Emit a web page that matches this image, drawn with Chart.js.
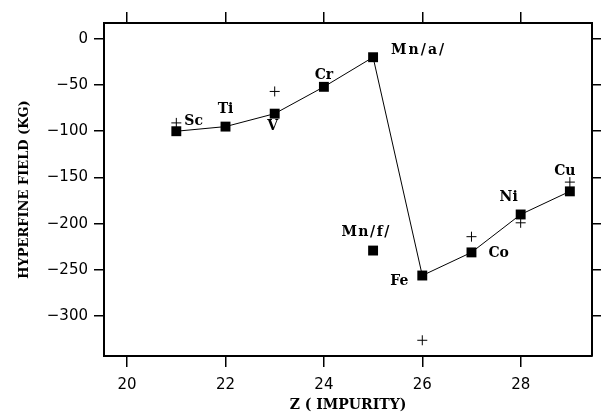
<!DOCTYPE html>
<html lang="en">
<head>
  <meta charset="UTF-8">
  <title>Hyperfine field vs Z</title>
  <script src="https://cdn.jsdelivr.net/npm/chart.js"></script>
  <style>
    html, body { margin: 0; padding: 0; background: #fff; }
    #wrap { width: 601px; height: 415px; }
  </style>
</head>
<body>
  <div id="wrap"><canvas id="hfChart" width="601" height="415"></canvas></div>

  <script>
    // measured hyperfine fields (squares, joined by the line)
    const zValues = [21, 22, 23, 24, 25, 26, 27, 28, 29];
    const fieldMeasured = [-100, -95, -81, -52, -20, -256, -231, -190, -165];
    const elementNames = ['Sc', 'Ti', 'V', 'Cr', 'Mn/a/', 'Fe', 'Co', 'Ni', 'Cu'];
    // Mn, second value (lone square)
    const mnFerroZ = [25];
    const mnFerroField = [-229];
    const mnFerroName = ['Mn/f/'];
    // calculated values (+ marks)
    const crossZ = [21, 23, 26, 27, 28, 29];
    const crossField = [-91, -57, -326, -214, -199, -155];
    // axis ticks
    const xTicks = [20, 22, 24, 26, 28];
    const yTicks = [0, -50, -100, -150, -200, -250, -300];

    const tickFont = { family: 'DejaVu Sans', size: 15 };
    const serifFont = 'DejaVu Serif';

    // label offsets from their square, in px: [dx, dy, align, letterSpacing]
    const labelOffsets = {
      'Sc': [8, -10, 'left', 0],
      'Ti': [0, -17, 'center', 0],
      'V': [-2, 13, 'center', 0],
      'Cr': [0, -11, 'center', 0],
      'Mn/a/': [18, -7, 'left', 2],
      'Fe': [-23, 6, 'center', 0],
      'Co': [17, 1, 'left', 0],
      'Ni': [-12, -17, 'center', 0],
      'Cu': [-5, -20, 'center', 0],
      'Mn/f/': [-7, -18, 'center', 1.5]
    };

    const elementLabels = {
      id: 'elementLabels',
      afterDatasetsDraw(chart) {
        const c = chart.ctx;
        const xs = chart.scales.x, ys = chart.scales.y;
        const put = (name, z, f) => {
          const o = labelOffsets[name];
          c.save();
          c.font = 'bold 14px "' + serifFont + '"';
          c.fillStyle = '#000';
          c.textAlign = o[2];
          c.textBaseline = 'middle';
          c.letterSpacing = o[3] + 'px';
          c.fillText(name, xs.getPixelForValue(z) + o[0], ys.getPixelForValue(f) + o[1]);
          c.restore();
        };
        elementNames.forEach((n, i) => put(n, zValues[i], fieldMeasured[i]));
        mnFerroName.forEach((n, i) => put(n, mnFerroZ[i], mnFerroField[i]));
      }
    };

    const gridOpts = { drawOnChartArea: false, color: '#000', lineWidth: 1.5 };
    const borderOpts = { display: true, color: '#000', width: 2 };

    let ctx = document.getElementById('hfChart').getContext('2d');
    let hfChart = new Chart(ctx, {
      type: 'scatter',
      data: {
        datasets: [{
          label: 'measured',
          data: zValues.map((z, i) => ({ x: z, y: fieldMeasured[i] })),
          showLine: true,
          borderColor: '#000',
          backgroundColor: '#000',
          borderWidth: 1,
          pointStyle: 'rect',
          pointRadius: 7,
          pointBorderWidth: 0,
          tension: 0
        }, {
          label: 'Mn f',
          data: mnFerroZ.map((z, i) => ({ x: z, y: mnFerroField[i] })),
          showLine: false,
          backgroundColor: '#000',
          borderColor: '#000',
          pointStyle: 'rect',
          pointRadius: 7,
          pointBorderWidth: 0
        }, {
          label: 'calc',
          data: crossZ.map((z, i) => ({ x: z, y: crossField[i] })),
          showLine: false,
          borderColor: '#000',
          pointStyle: 'cross',
          pointRadius: 5,
          pointBorderWidth: 1
        }]
      },
      options: {
        responsive: false,
        animation: false,
        layout: { padding: 0 },
        plugins: { legend: { display: false }, tooltip: { enabled: false } },
        scales: {
          x: {
            type: 'linear', position: 'bottom', min: 19.53, max: 29.45,
            afterBuildTicks: s => { s.ticks = xTicks.map(v => ({ value: v })); },
            afterFit: s => { s.height = 59; },
            ticks: { font: tickFont, color: '#000', padding: 9 },
            grid: Object.assign({ tickLength: 11 }, gridOpts),
            border: borderOpts,
            title: {
              display: true, text: 'Z ( IMPURITY)', color: '#000',
              font: { family: serifFont, size: 14, weight: 'bold' }, padding: { top: 0, bottom: 1 }
            }
          },
          x2: {
            type: 'linear', position: 'top', min: 19.53, max: 29.45,
            afterBuildTicks: s => { s.ticks = xTicks.map(v => ({ value: v })); },
            afterFit: s => { s.height = 23; },
            ticks: { display: false },
            grid: Object.assign({ tickLength: 11 }, gridOpts),
            border: borderOpts
          },
          y: {
            type: 'linear', position: 'left', min: -343, max: 17,
            afterBuildTicks: s => { s.ticks = yTicks.map(v => ({ value: v })); },
            afterFit: s => { s.width = 104; },
            ticks: {
              font: tickFont, color: '#000', padding: 6,
              callback: v => v < 0 ? '\u2212' + Math.abs(v) : String(v)
            },
            grid: Object.assign({ tickLength: 10 }, gridOpts),
            border: borderOpts,
            title: {
              display: true, text: 'HYPERFINE FIELD (KG)', color: '#000',
              font: { family: serifFont, size: 13, weight: 'bold' }, padding: { top: 17, bottom: 0 }
            }
          },
          y2: {
            type: 'linear', position: 'right', min: -343, max: 17,
            afterBuildTicks: s => { s.ticks = yTicks.map(v => ({ value: v })); },
            afterFit: s => { s.width = 9; },
            ticks: { display: false },
            grid: Object.assign({ tickLength: 9 }, gridOpts),
            border: borderOpts
          }
        }
      },
      plugins: [elementLabels]
    });
  </script>
</body>
</html>
